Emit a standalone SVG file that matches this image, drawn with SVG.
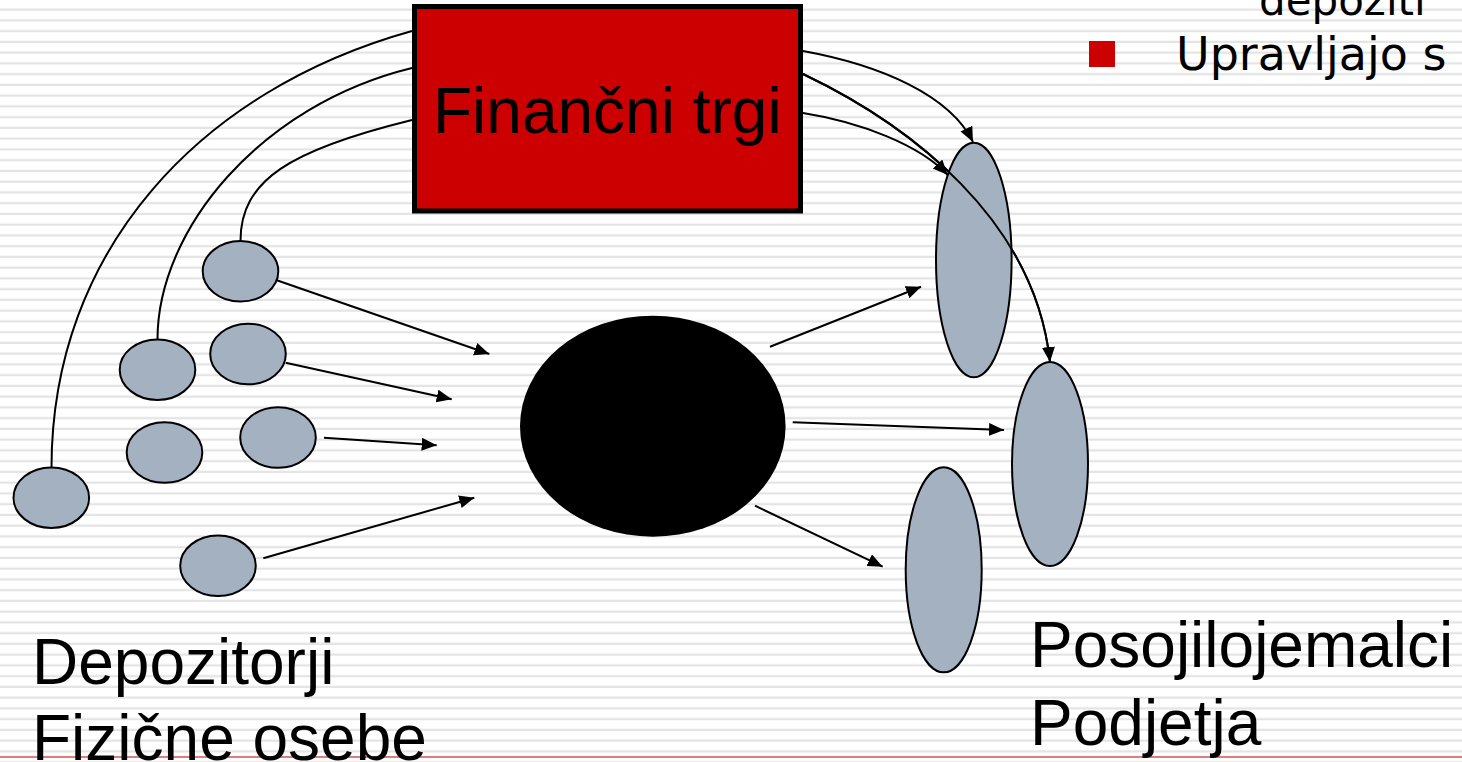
<svg xmlns="http://www.w3.org/2000/svg" width="1462" height="762" viewBox="0 0 1462 762">
  <defs>
    <pattern id="stripes" patternUnits="userSpaceOnUse" x="0" y="0" width="20" height="10.75">
      <rect x="0" y="8.5" width="20" height="2.6" fill="#e4e4e4"/>
    </pattern>
    <marker id="arrow" markerUnits="userSpaceOnUse" markerWidth="16" markerHeight="14" refX="15" refY="6.5" orient="auto">
      <path d="M0,0 L15,6.5 L0,13 z" fill="#000"/>
    </marker>
    <style>
      .small { fill: #a3b1c0; stroke: #000; stroke-width: 2; }
      .big { fill: #a3b1c0; stroke: #000; stroke-width: 2; }
      .conn { fill: none; stroke: #000; stroke-width: 2; }
      .arr { marker-end: url(#arrow); }
      .label { font-family: "Liberation Sans", Arial, sans-serif; font-size: 64px; fill: #000; }
      .bullet { font-family: "DejaVu Sans", Verdana, sans-serif; fill: #000; }
    </style>
  </defs>

  <!-- slide background -->
  <rect width="1462" height="762" fill="#fff"/>
  <rect width="1462" height="762" fill="url(#stripes)"/>
  <line x1="0" y1="757" x2="1462" y2="757" stroke="#e07c7c" stroke-width="2"/>

  <!-- bullet text, top right -->
  <g id="bullets">
    <text class="bullet" x="1259" y="15" font-size="42">depoziti</text>
    <rect x="1089" y="41" width="26" height="26" fill="#cc0000"/>
    <text class="bullet" x="1176" y="70" font-size="46">Upravljajo s</text>
  </g>

  <!-- connectors -->
  <g id="connectors">
    <!-- market to depositors -->
    <path class="conn" d="M412,31 C200,90 51.5,250 51.5,467.7"/>
    <path class="conn" d="M412,68 C260,105 157.5,230 157.5,339.3"/>
    <path class="conn" d="M412,120 C290,150 240.5,180 240.5,241"/>
    <!-- market to borrowers -->
    <path class="conn arr" d="M803,51 C880,65 950,95 973,142"/>
    <path class="conn arr" d="M803,74 C910,125 1035,220 1050,362"/>
    <path class="conn arr" d="M803,113 C860,122 920,145 947.7,175"/>
    <!-- depositors to intermediary -->
    <line class="conn arr" x1="271" y1="278.3" x2="489.3" y2="354"/>
    <line class="conn arr" x1="285.7" y1="362.7" x2="451.7" y2="399.3"/>
    <line class="conn arr" x1="324" y1="437.7" x2="436.7" y2="445.3"/>
    <line class="conn arr" x1="263.3" y1="558.3" x2="474.3" y2="497.7"/>
    <!-- intermediary to borrowers -->
    <line class="conn arr" x1="770" y1="346.7" x2="921" y2="286.7"/>
    <line class="conn arr" x1="792.7" y1="422.3" x2="1004" y2="430"/>
    <line class="conn arr" x1="755" y1="505.7" x2="882.7" y2="566.7"/>
  </g>

  <!-- financial markets -->
  <g id="financni-trgi">
    <rect x="414.5" y="6.5" width="386" height="204.5" fill="#cc0000" stroke="#000" stroke-width="5"/>
    <text class="label" x="433" y="133">Finančni trgi</text>
  </g>

  <!-- intermediary -->
  <g id="posrednik">
    <ellipse cx="652.8" cy="426.2" rx="132.8" ry="110.5" fill="#000"/>
  </g>

  <!-- depositors -->
  <g id="depozitor-1"><ellipse class="small" cx="240.5" cy="271.3" rx="37.8" ry="30.3"/></g>
  <g id="depozitor-2"><ellipse class="small" cx="248" cy="354" rx="37.8" ry="30.3"/></g>
  <g id="depozitor-3"><ellipse class="small" cx="157.5" cy="369.7" rx="37.8" ry="30.3"/></g>
  <g id="depozitor-4"><ellipse class="small" cx="164.5" cy="452.5" rx="37.8" ry="30.3"/></g>
  <g id="depozitor-5"><ellipse class="small" cx="278" cy="437.5" rx="37.8" ry="30.3"/></g>
  <g id="depozitor-6"><ellipse class="small" cx="51.3" cy="497.7" rx="37.8" ry="30.3"/></g>
  <g id="depozitor-7"><ellipse class="small" cx="218" cy="565.8" rx="37.8" ry="30.3"/></g>

  <!-- borrowers -->
  <g id="posojilojemalec-1"><ellipse class="big" cx="973.8" cy="260" rx="37.8" ry="117.3"/></g>
  <g id="posojilojemalec-2"><ellipse class="big" cx="1050" cy="464" rx="38" ry="102"/></g>
  <g id="posojilojemalec-3"><ellipse class="big" cx="943.7" cy="569.8" rx="38" ry="102.5"/></g>

  <!-- the long market connector runs across borrower 1 -->
  <g id="connector-overlay">
    <path class="conn" d="M803,74 C910,125 1035,220 1050,362"/>
  </g>

  <!-- group labels -->
  <g id="labels">
    <text class="label" x="32" y="684">Depozitorji</text>
    <text class="label" x="32" y="760">Fizične osebe</text>
    <text class="label" x="1030" y="667">Posojilojemalci</text>
    <text class="label" x="1030" y="745">Podjetja</text>
  </g>
</svg>
